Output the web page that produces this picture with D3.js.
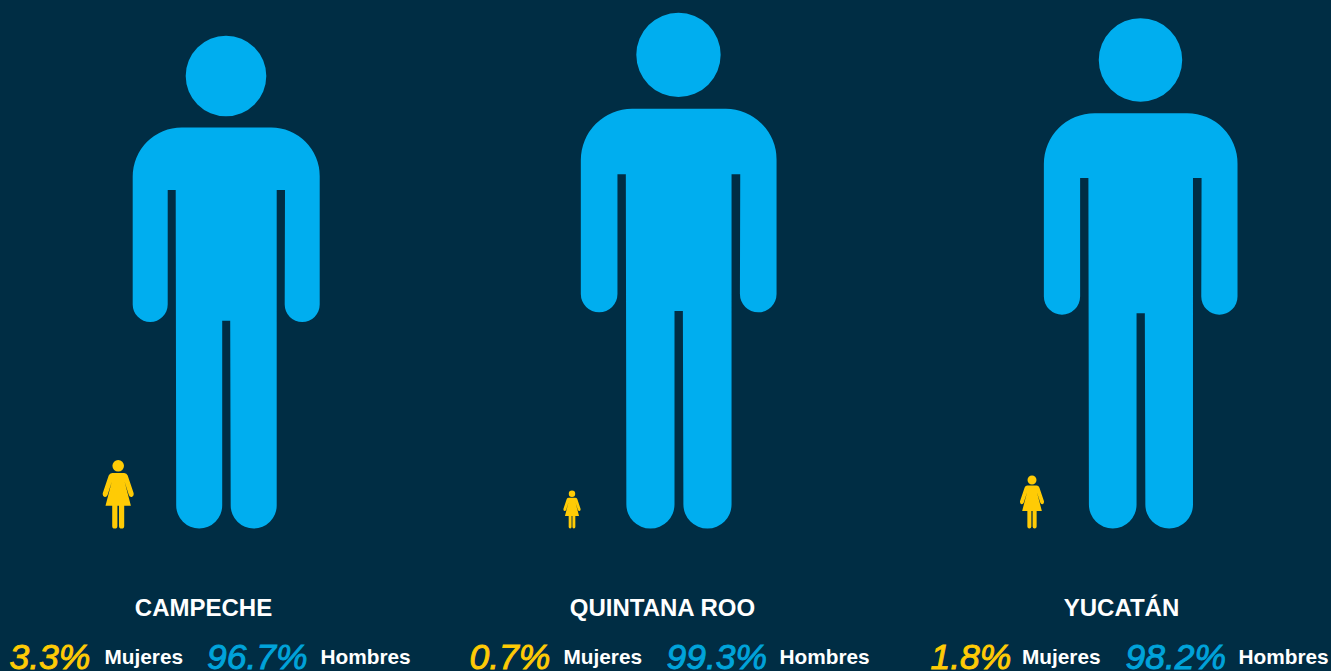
<!DOCTYPE html>
<html>
<head>
<meta charset="utf-8">
<script src="https://cdn.jsdelivr.net/npm/d3@7"></script>
<style>
  html, body { margin: 0; padding: 0; background: #002d44; overflow: hidden; }
  svg { display: block; }
  text { font-family: "Liberation Sans", Arial, sans-serif; }
  .state { font-size: 24px; font-weight: bold; fill: #fff; text-anchor: middle; }
  .pct { font-size: 35.5px; font-style: italic; stroke-width: 0.9px; }
  .lab { font-size: 20.8px; font-weight: bold; fill: #fff; }
</style>
</head>
<body>
<svg id="chart" width="1331" height="671"></svg>
<script>
// Share of women and men per state
const states = ["CAMPECHE", "QUINTANA ROO", "YUCATÁN"];
const mujeres = [3.3, 0.7, 1.8];
const hombres = [96.7, 99.3, 98.2];

const width = 1331;
const height = 671;
const baseline = 528.5;

const blue = "#00aeef";
const textBlue = "#00a3da";
const yellow = "#ffcb05";

// Icon height for each value
const iconHeight = d3.scaleLinear()
    .domain([0.7, 1.8, 3.3, 96.7, 98.2, 99.3])
    .range([38, 53, 68.5, 492.5, 510, 515.5]);

// Horizontal positions per state
const manX = d3.scaleOrdinal(states, [226.5, 679, 1141]);
const womanX = d3.scaleOrdinal(states, [118.2, 572, 1032]);
const titleX = d3.scaleOrdinal(states, [203.5, 662.5, 1121.5]);
const pctWomanX = d3.scaleOrdinal(states, [9.5, 469.5, 930.5]);
const labWomanX = d3.scaleOrdinal(states, [104.5, 563.5, 1022]);
const pctManX = d3.scaleOrdinal(states, [207, 666.5, 1125.5]);
const labManX = d3.scaleOrdinal(states, [320.5, 779.5, 1238.5]);

// Pictograms are drawn with x = 0 on the centre line, y = 0 at the feet
function manPath(s) {
  const p = d3.path();
  const y = v => (v - 492.5) * s;
  const x = v => v * s;
  // body, clockwise from the left shoulder
  p.moveTo(x(-93.8), y(141));
  p.arcTo(x(-93.8), y(91.5), x(-44.8), y(91.5), 49 * s);
  p.lineTo(x(44.8), y(91.5));
  p.arcTo(x(93.2), y(91.5), x(93.2), y(141), 48.5 * s);
  p.lineTo(x(93.2), y(268.5));
  p.arc(x(75.7), y(268.5), 17.5 * s, 0, Math.PI);
  p.lineTo(x(58.5), y(154));
  p.lineTo(x(50.2), y(154));
  p.lineTo(x(50.2), y(469.5));
  p.arc(x(27.2), y(469.5), 23 * s, 0, Math.PI);
  p.lineTo(x(3.7), y(284.7));
  p.lineTo(x(-4.3), y(284.7));
  p.lineTo(x(-4.3), y(469.5));
  p.arc(x(-27.3), y(469.5), 23 * s, 0, Math.PI);
  p.lineTo(x(-50.8), y(154));
  p.lineTo(x(-58.8), y(154));
  p.lineTo(x(-58.8), y(268.5));
  p.arc(x(-76.3), y(268.5), 17.5 * s, 0, Math.PI);
  p.closePath();
  // head
  p.moveTo(x(39.8), y(40));
  p.arc(x(-0.5), y(40), 40.3 * s, 0, 2 * Math.PI);
  return p.toString();
}

function womanPath(s) {
  const p = d3.path();
  const y = v => (v - 68.5) * s;
  const x = v => v * s;
  // head
  p.moveTo(x(5.8), y(5.8));
  p.arc(0, y(5.8), 5.8 * s, 0, 2 * Math.PI);
  p.closePath();
  // dress and arms
  p.moveTo(x(-6), y(13));
  p.lineTo(x(6), y(13));
  p.quadraticCurveTo(x(8.5), y(13), x(9.5), y(15.5));
  p.lineTo(x(15.4), y(33));
  p.quadraticCurveTo(x(16), y(36.5), x(13.5), y(37));
  p.quadraticCurveTo(x(11.5), y(37.3), x(10.6), y(35));
  p.lineTo(x(6.5), y(22));
  p.lineTo(x(12.7), y(45.8));
  p.lineTo(x(6), y(45.8));
  p.lineTo(x(6), y(66));
  p.arc(x(3.4), y(66), 2.6 * s, 0, Math.PI);
  p.lineTo(x(0.8), y(45.8));
  p.lineTo(x(-0.8), y(45.8));
  p.lineTo(x(-0.8), y(66));
  p.arc(x(-3.4), y(66), 2.6 * s, 0, Math.PI);
  p.lineTo(x(-6), y(45.8));
  p.lineTo(x(-12.7), y(45.8));
  p.lineTo(x(-6.5), y(22));
  p.lineTo(x(-10.6), y(35));
  p.quadraticCurveTo(x(-11.5), y(37.3), x(-13.5), y(37));
  p.quadraticCurveTo(x(-16), y(36.5), x(-15.4), y(33));
  p.lineTo(x(-9.5), y(15.5));
  p.quadraticCurveTo(x(-8.5), y(13), x(-6), y(13));
  p.closePath();
  return p.toString();
}

const svg = d3.select("#chart");

svg.append("rect")
    .attr("width", width)
    .attr("height", height)
    .attr("fill", "#002d44");

const groups = svg.selectAll(".state-group")
    .data(states)
    .enter()
    .append("g")
    .attr("class", "state-group");

// Men
groups.append("path")
    .attr("d", (d, i) => manPath(iconHeight(hombres[i]) / 492.5))
    .attr("transform", d => `translate(${manX(d)},${baseline})`)
    .attr("fill", blue);

// Women
groups.append("path")
    .attr("d", (d, i) => womanPath(iconHeight(mujeres[i]) / 68.5))
    .attr("transform", d => `translate(${womanX(d)},${baseline})`)
    .attr("fill", yellow);

// State name
groups.append("text")
    .attr("class", "state")
    .attr("x", d => titleX(d))
    .attr("y", 615.5)
    .text(d => d);

// Percentages and labels
groups.append("text")
    .attr("class", "pct")
    .attr("x", d => pctWomanX(d))
    .attr("y", 668.5)
    .attr("fill", yellow)
    .attr("stroke", yellow)
    .text((d, i) => mujeres[i].toFixed(1) + "%");

groups.append("text")
    .attr("class", "lab")
    .attr("x", d => labWomanX(d))
    .attr("y", 664)
    .text("Mujeres");

groups.append("text")
    .attr("class", "pct")
    .attr("x", d => pctManX(d))
    .attr("y", 668.5)
    .attr("fill", textBlue)
    .attr("stroke", textBlue)
    .text((d, i) => hombres[i].toFixed(1) + "%");

groups.append("text")
    .attr("class", "lab")
    .attr("x", d => labManX(d))
    .attr("y", 664)
    .text("Hombres");
</script>
</body>
</html>
